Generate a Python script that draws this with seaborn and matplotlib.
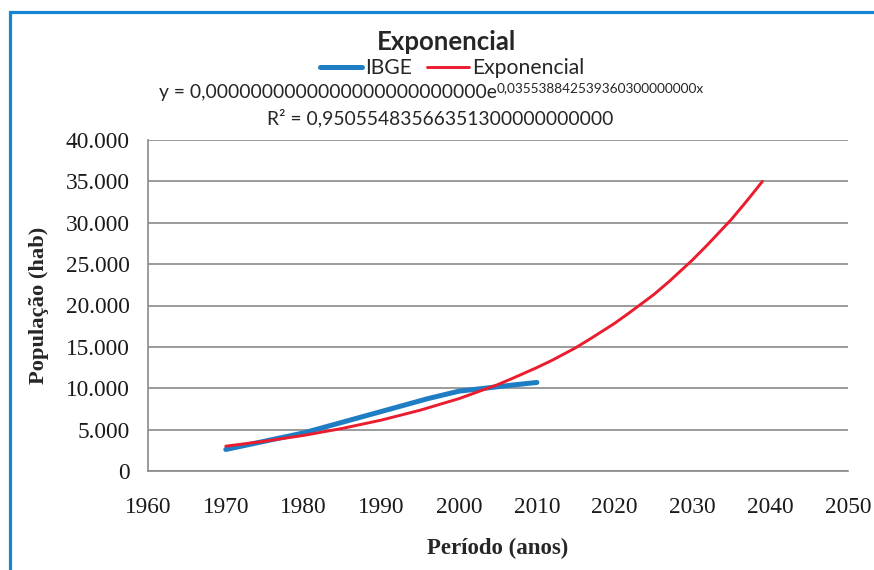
import matplotlib
matplotlib.use("Agg")
import matplotlib.pyplot as plt
import seaborn as sns
import pandas as pd
import numpy as np
from matplotlib.ticker import FuncFormatter, MultipleLocator
from matplotlib.lines import Line2D
from matplotlib.patches import Rectangle

# IBGE census population
ibge_anos = [1970, 1980, 1991, 1996, 2000, 2007, 2010]
ibge_pop = [2600, 4600, 7450, 8750, 9650, 10400, 10700]

# exponential trend line
exp_anos = [1970, 1975, 1980, 1985, 1990, 1995, 2000, 2005, 2007, 2010, 2012,
            2015, 2017, 2020, 2022, 2025, 2027, 2030, 2032, 2035, 2037, 2039]
exp_pop = [3000, 3600, 4300, 5150, 6150, 7350, 8750, 10450, 11250, 12500, 13400,
           14900, 16050, 17850, 19200, 21300, 22900, 25500, 27400, 30400,
           32650, 35000]

titulo = "Exponencial"
equacao = "y = 0,0000000000000000000000000e"
expoente = "0,035538842539360300000000x"
r2_texto = "R² = 0,95055483566351300000000000"

COR_IBGE = "#1f7dc4"
COR_EXP = "#ea1c2d"
COR_GRADE = "#8a8a8a"

sns.set_style("white")
plt.rcParams["font.family"] = ["Lato", "DejaVu Sans"]

df_ibge = pd.DataFrame({"ano": ibge_anos, "pop": ibge_pop})
df_exp = pd.DataFrame({"ano": exp_anos, "pop": exp_pop})

fig = plt.figure(figsize=(8.74, 5.70), dpi=100)
ax = fig.add_axes([148 / 874, 99 / 570, 700 / 874, 331 / 570])

sns.lineplot(data=df_ibge, x="ano", y="pop", ax=ax, color=COR_IBGE,
             linewidth=3.6, solid_capstyle="round", zorder=3)
sns.lineplot(data=df_exp, x="ano", y="pop", ax=ax, color=COR_EXP,
             linewidth=2.1, zorder=4)

ax.set_xlim(1960, 2050)
ax.set_ylim(0, 40000)
ax.xaxis.set_major_locator(MultipleLocator(10))
ax.yaxis.set_major_locator(MultipleLocator(5000))
ax.yaxis.set_major_formatter(FuncFormatter(
    lambda v, p: f"{int(v):,}".replace(",", ".")))

ax.grid(axis="y", color=COR_GRADE, linewidth=1.2)
ax.grid(axis="x", visible=False)
for s in ["top", "right"]:
    ax.spines[s].set_visible(False)
for s in ["left", "bottom"]:
    ax.spines[s].set_color(COR_GRADE)
    ax.spines[s].set_linewidth(1.2)

ax.tick_params(axis="y", direction="out", length=5, width=1.2, color=COR_GRADE,
               labelsize=16.8, pad=8)
ax.tick_params(axis="x", direction="out", length=8, width=1.2, color=COR_GRADE,
               labelsize=16.8, pad=11)
for lbl in ax.get_xticklabels() + ax.get_yticklabels():
    lbl.set_family("Liberation Serif")
    lbl.set_color("#1a1a1a")

ax.set_xlabel("Período (anos)", family="Liberation Serif", fontweight="bold",
              fontsize=16.5, labelpad=14)
ax.set_ylabel("População (hab)", family="Liberation Serif", fontweight="bold",
              fontsize=16.2, labelpad=12)

# titulo, legenda e equacao da linha de tendencia
fig.text(447 / 874, 1 - 42 / 570, titulo, ha="center", va="center",
         fontsize=18.5, fontweight="bold")

handles = [Line2D([], [], color=COR_IBGE, linewidth=3.6),
           Line2D([], [], color=COR_EXP, linewidth=2.1)]
fig.legend(handles, ["IBGE", "Exponencial"], loc="center",
           bbox_to_anchor=(452 / 874, 1 - 68 / 570), ncol=2, frameon=False,
           fontsize=15.2, handlelength=2.0, handletextpad=0.15,
           columnspacing=0.7, borderpad=0)

base = fig.text(497 / 874, 1 - 92 / 570, equacao, ha="right", va="center",
                fontsize=13.9)
ax.annotate(expoente, xy=(1.0, 0.75), xycoords=base, ha="left",
            va="center", fontsize=9.8)
fig.text(440 / 874, 1 - 118 / 570, r2_texto, ha="center", va="center",
         fontsize=13.9)

# moldura azul do grafico
fig.patches.append(Rectangle((9.5 / 874, -0.2), 1.2, 1.2 - 11.5 / 570,
                             transform=fig.transFigure, fill=False,
                             edgecolor="#1685d3", linewidth=2.3))

fig.savefig("out.png", dpi=100)
